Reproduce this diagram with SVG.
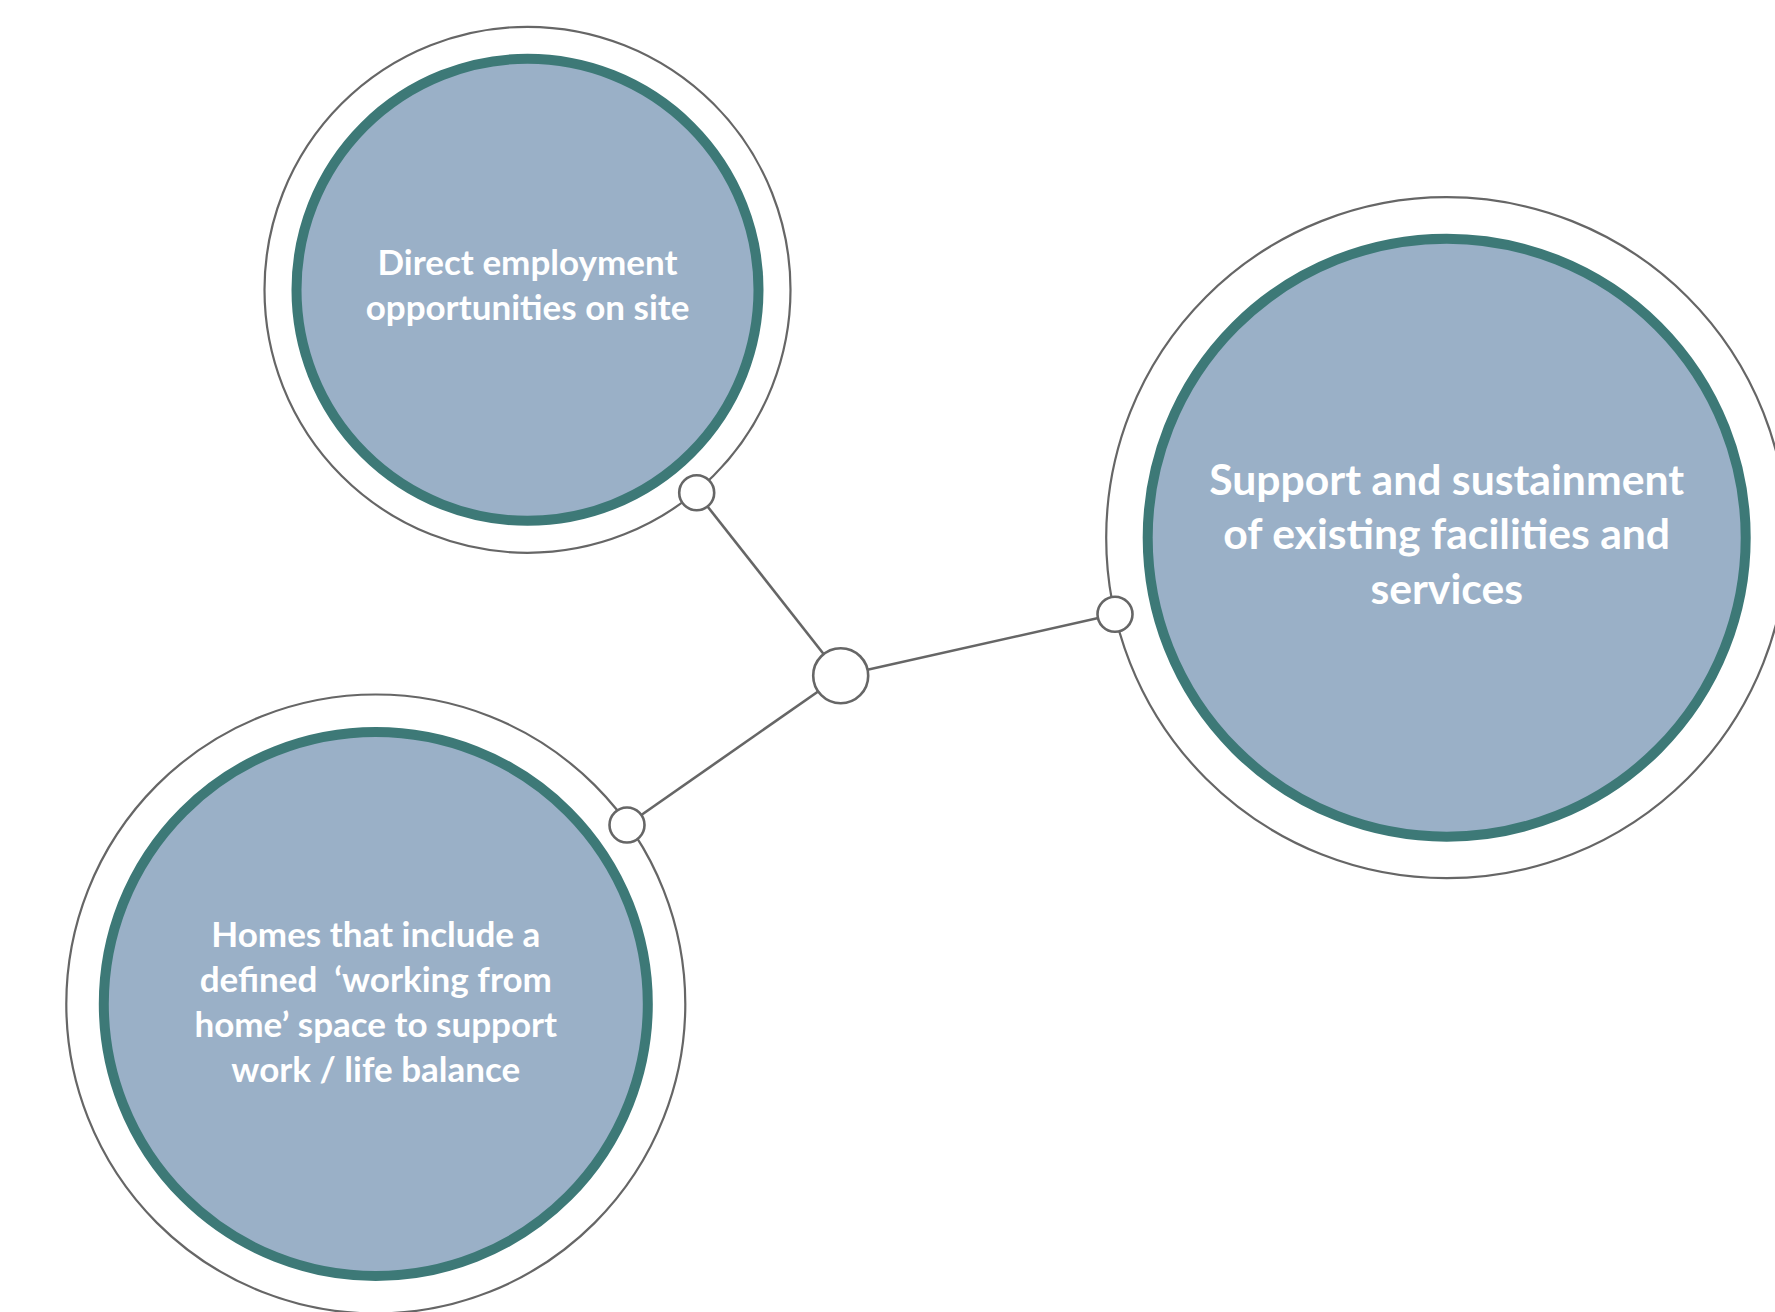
<svg xmlns="http://www.w3.org/2000/svg" width="1775" height="1312" viewBox="0 0 1775 1312">
  <style>
    .ring { fill: none; stroke: #666666; stroke-width: 2.2; }
    .core { fill: #9AB0C7; stroke: #3D7977; stroke-width: 10; }
    .dot { fill: #FFFFFF; stroke: #666666; stroke-width: 2.6; }
    .link { stroke: #666666; stroke-width: 2.6; fill: none; }
    .label { fill: #FFFFFF; font-family: "Lato", "Open Sans", "Liberation Sans", sans-serif; font-weight: 700; text-anchor: middle; }
  </style>
  <rect width="1775" height="1312" fill="#FFFFFF"/>

  <!-- connectors from the hub to each outer ring -->
  <g id="connectors">
    <line class="link" x1="840.7" y1="675.7" x2="696.7" y2="492.7"/>
    <line class="link" x1="840.7" y1="675.7" x2="1115" y2="614.3"/>
    <line class="link" x1="840.7" y1="675.7" x2="627" y2="825"/>
  </g>

  <g id="node-employment">
    <circle class="ring" cx="527.5" cy="289.8" r="263"/>
    <circle class="core" cx="527.5" cy="289.8" r="231"/>
    <text class="label" font-size="35" x="527.5" y="275">Direct employment</text>
    <text class="label" font-size="35" x="527.5" y="319.5">opportunities on site</text>
  </g>

  <g id="node-facilities">
    <circle class="ring" cx="1446.7" cy="537.7" r="340.5"/>
    <circle class="core" cx="1446.7" cy="537.7" r="299"/>
    <text class="label" font-size="42.7" x="1446.7" y="494.5">Support and sustainment</text>
    <text class="label" font-size="42.7" x="1446.7" y="549">of existing facilities and</text>
    <text class="label" font-size="42.7" x="1446.7" y="603.5">services</text>
  </g>

  <g id="node-homes">
    <circle class="ring" cx="375.8" cy="1004" r="309.5"/>
    <circle class="core" cx="375.8" cy="1004" r="272"/>
    <text class="label" font-size="35" x="375.8" y="947">Homes that include a</text>
    <text class="label" font-size="35" x="375.8" y="992" xml:space="preserve">defined  ‘working from</text>
    <text class="label" font-size="35" x="375.8" y="1037">home’ space to support</text>
    <text class="label" font-size="35" x="375.8" y="1082">work / life balance</text>
  </g>

  <!-- junction dots -->
  <g id="node-hub">
    <circle class="dot" cx="840.7" cy="675.7" r="27.5"/>
  </g>
  <g id="joint-employment">
    <circle class="dot" cx="696.7" cy="492.7" r="17.5"/>
  </g>
  <g id="joint-facilities">
    <circle class="dot" cx="1115" cy="614.3" r="17.5"/>
  </g>
  <g id="joint-homes">
    <circle class="dot" cx="627" cy="825" r="17.5"/>
  </g>
</svg>
